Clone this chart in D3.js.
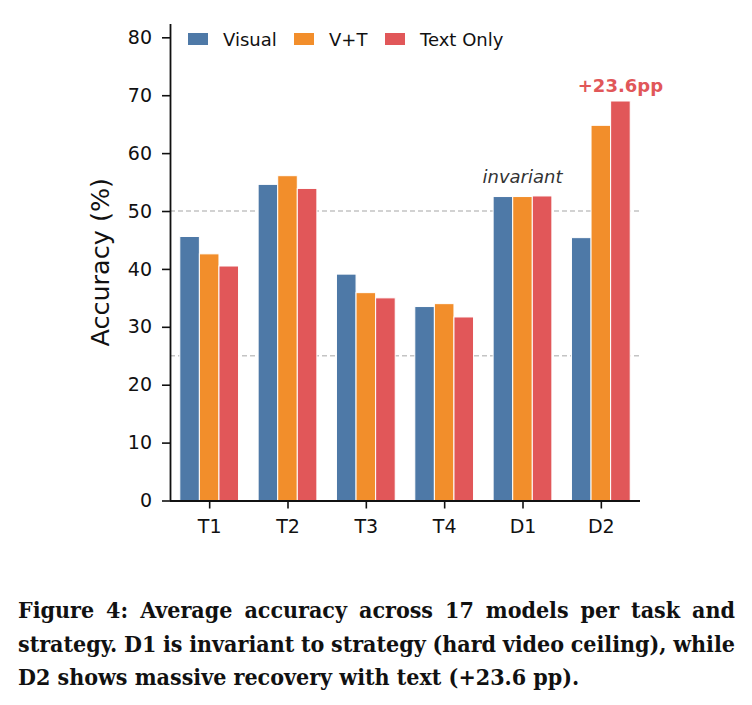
<!DOCTYPE html>
<html>
<head>
<meta charset="utf-8">
<script src="https://cdn.jsdelivr.net/npm/d3@7"></script>
<style>
  body { margin: 0; background: #fff; }
</style>
</head>
<body>
<script>
const tasks = ["T1", "T2", "T3", "T4", "D1", "D2"];
const strategies = ["Visual", "V+T", "Text Only"];
const visual = [45.6, 54.6, 39.1, 33.5, 52.5, 45.4];
const vt = [42.6, 56.1, 35.9, 34.0, 52.5, 64.8];
const textOnly = [40.5, 53.9, 35.0, 31.7, 52.6, 69.0];
const yTicks = [0, 10, 20, 30, 40, 50, 60, 70, 80];
const refLines = [25, 50];
const captionLines = [
  "Figure 4: Average accuracy across 17 models per task and",
  "strategy. D1 is invariant to strategy (hard video ceiling), while",
  "D2 shows massive recovery with text (+23.6 pp)."
];

const colors = ["#4e79a7", "#f28e2b", "#e15759"];
const series = [visual, vt, textOnly];

const width = 752, height = 705;
const margin = {top: 24, right: 112, bottom: 204.5, left: 170};
const innerW = width - margin.left - margin.right;
const innerH = height - margin.top - margin.bottom;

const svg = d3.select("body").append("svg")
  .attr("width", width)
  .attr("height", height);

const g = svg.append("g")
  .attr("transform", `translate(${margin.left}, ${margin.top})`);

const xscale = d3.scaleLinear()
  .domain([-0.5, tasks.length - 0.5])
  .range([0, innerW]);

const yscale = d3.scaleLinear()
  .domain([0, 82.3])
  .range([innerH, 0]);

const barW = 0.25;

// reference lines
g.selectAll("line.ref")
  .data(refLines)
  .enter()
  .append("line")
  .attr("x1", 0)
  .attr("x2", innerW)
  .attr("y1", d => yscale(d))
  .attr("y2", d => yscale(d))
  .attr("stroke", "#c4c4c4")
  .attr("stroke-width", 1.3)
  .attr("stroke-dasharray", "5,3");

// bars
series.forEach((vals, si) => {
  g.selectAll(null)
    .data(vals)
    .enter()
    .append("rect")
    .attr("x", (d, i) => xscale(i + (si - 1) * barW - barW / 2))
    .attr("y", d => yscale(d))
    .attr("width", xscale(barW) - xscale(0))
    .attr("height", d => yscale(0) - yscale(d))
    .attr("fill", colors[si])
    .attr("stroke", "#fff")
    .attr("stroke-width", 1);
});

// axes
const xaxis = d3.axisBottom(xscale)
  .tickValues(d3.range(tasks.length))
  .tickFormat(i => tasks[i])
  .tickSize(8)
  .tickPadding(11);

const yaxis = d3.axisLeft(yscale)
  .tickValues(yTicks)
  .tickSize(8)
  .tickPadding(10);

const gx = g.append("g")
  .attr("transform", `translate(0, ${innerH})`)
  .call(xaxis);

const gy = g.append("g")
  .call(yaxis);

[gx, gy].forEach(ax => {
  ax.select(".domain").attr("stroke", "#111").attr("stroke-width", 1.8);
  ax.selectAll(".tick line").attr("stroke", "#111").attr("stroke-width", 1.6);
  ax.selectAll(".tick text")
    .attr("fill", "#111")
    .style("font-family", "DejaVu Sans")
    .style("font-size", "19px");
});
gx.select(".domain").attr("d", `M0,0.5H${innerW}`);
gy.select(".domain").attr("d", `M0.5,${innerH}V0`);

g.append("text")
  .attr("transform", "rotate(-90)")
  .attr("x", -innerH / 2)
  .attr("y", -61)
  .attr("text-anchor", "middle")
  .attr("fill", "#111")
  .style("font-family", "DejaVu Sans")
  .style("font-size", "25.5px")
  .text("Accuracy (%)");

// annotations
g.append("text")
  .attr("x", xscale(4))
  .attr("y", yscale(d3.max([visual[4], vt[4], textOnly[4]])) - 13)
  .attr("text-anchor", "middle")
  .attr("fill", "#333")
  .style("font-family", "DejaVu Sans")
  .style("font-style", "italic")
  .style("font-size", "18px")
  .text("invariant");

g.append("text")
  .attr("x", xscale(5 + barW))
  .attr("y", yscale(textOnly[5]) - 9)
  .attr("text-anchor", "middle")
  .attr("fill", colors[2])
  .style("font-family", "DejaVu Sans")
  .style("font-weight", "bold")
  .style("font-size", "18px")
  .text("+" + (textOnly[5] - visual[5]).toFixed(1) + "pp");

// legend
const legendX = [18, 124, 215];
const legend = g.selectAll("g.legend")
  .data(strategies)
  .enter()
  .append("g")
  .attr("transform", (d, i) => `translate(${legendX[i]}, 9)`);

legend.append("rect")
  .attr("width", 20)
  .attr("height", 12)
  .attr("fill", (d, i) => colors[i]);

legend.append("text")
  .attr("x", 35)
  .attr("y", 13)
  .attr("fill", "#111")
  .style("font-family", "DejaVu Sans")
  .style("font-size", "18px")
  .text(d => d);

// caption, justified by widening word gaps
const capW = 717;
const cap = svg.append("g");
captionLines.forEach((line, i) => {
  const t = cap.append("text")
    .attr("x", 18)
    .attr("y", 618 + i * 33.5)
    .attr("fill", "#111")
    .style("font-family", "'DejaVu Serif Condensed', 'DejaVu Serif'")
    .style("font-stretch", "condensed")
    .style("font-weight", "bold")
    .style("font-size", "23px")
    .text(line);
  if (i < captionLines.length - 1) {
    const w = t.node().getComputedTextLength();
    const gaps = line.split(" ").length - 1;
    t.style("word-spacing", ((capW - w) / gaps) + "px");
  }
});
</script>
</body>
</html>
